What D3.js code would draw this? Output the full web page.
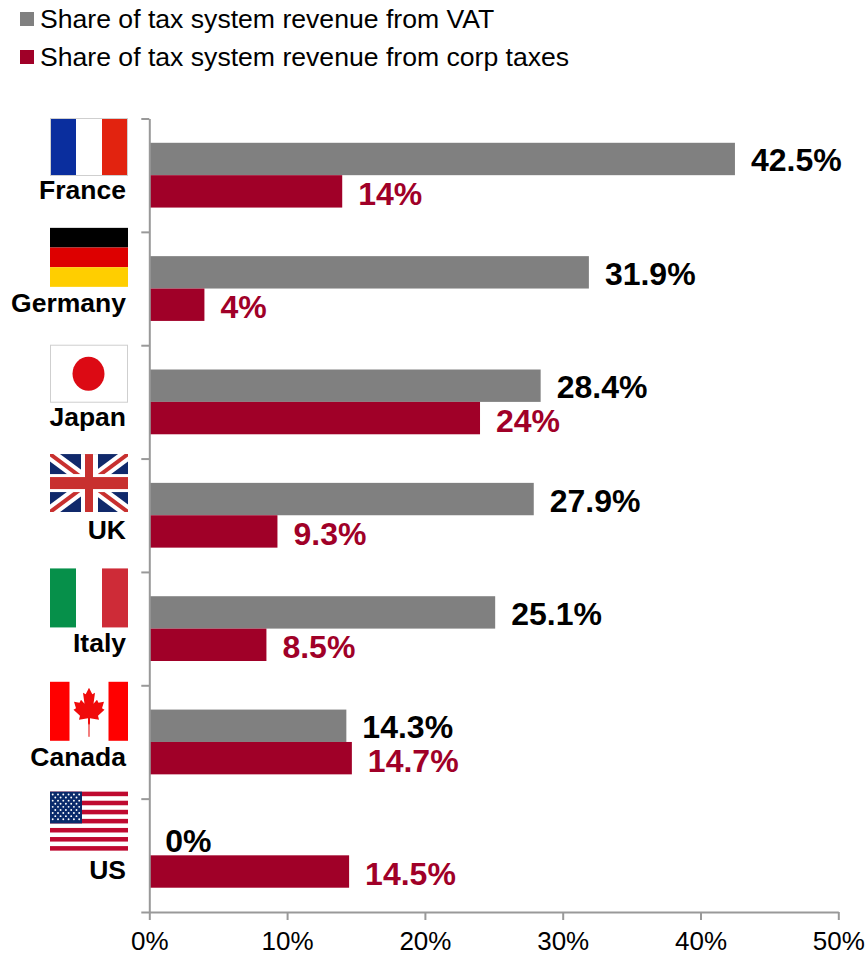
<!DOCTYPE html>
<html>
<head>
<meta charset="utf-8">
<script src="https://cdn.jsdelivr.net/npm/d3@7"></script>
<style>
  html, body { margin: 0; padding: 0; background: #fff; }
  svg { display: block; }
  text { font-family: "Liberation Sans", Arial, sans-serif; }
</style>
</head>
<body>
<svg id="chart" width="867" height="955"></svg>
<script>
// Tax revenue shares by country
const countries = ["France", "Germany", "Japan", "UK", "Italy", "Canada", "US"];
const vatShare = [42.5, 31.9, 28.4, 27.9, 25.1, 14.3, 0];
const corpShare = [14, 4, 24, 9.3, 8.5, 14.7, 14.5];
const seriesNames = ["Share of tax system revenue from VAT", "Share of tax system revenue from corp taxes"];
const xTicks = [0, 10, 20, 30, 40, 50];

const GREY = "#808080", CRIMSON = "#A00028", AXIS = "#999999";
const svg = d3.select("#chart");

const x = d3.scaleLinear().domain([0, 50]).range([149.3, 838.3]);
const yBand = d3.scaleBand().domain(countries).range([118.5, 912]);
const yBar = d3.scaleBand().domain(["vat", "corp"]).range([0, yBand.bandwidth()]).paddingOuter(0.75);
const yEdge = d3.scaleLinear().domain([0, countries.length]).range(yBand.range());

// Legend
const legendRow = d3.scalePoint().domain(seriesNames).range([19, 57]);
const legend = svg.append("g");
seriesNames.forEach((name, i) => {
  legend.append("rect").attr("x", 20).attr("y", legendRow(name) - 7).attr("width", 14).attr("height", 14)
    .attr("fill", i ? CRIMSON : GREY);
  legend.append("text").attr("x", 40).attr("y", legendRow(name) + 8.5)
    .attr("font-size", 26.6).attr("fill", "#000").text(name);
});

// Bars and value labels
const rows = countries.map((c, i) => ({ c, vat: vatShare[i], corp: corpShare[i] }));
[["vat", GREY, "#000"], ["corp", CRIMSON, CRIMSON]].forEach(([key, fill, ink]) => {
  svg.append("g").selectAll("rect").data(rows).join("rect")
    .attr("x", x(0))
    .attr("y", d => yBand(d.c) + yBar(key))
    .attr("width", d => x(d[key]) - x(0))
    .attr("height", yBar.bandwidth())
    .attr("fill", fill);
  svg.append("g").selectAll("text").data(rows).join("text")
    .attr("x", d => x(d[key]) + 16)
    .attr("y", d => yBand(d.c) + yBar(key) + yBar.bandwidth() / 2 + (key === "vat" ? 12.5 : 13.5))
    .attr("font-size", 32).attr("font-weight", "bold").attr("fill", ink)
    .text(d => d[key] + "%");
});

// Axes
const styleAxis = g => {
  g.selectAll("path, line").attr("stroke", AXIS).attr("stroke-width", 2);
};
svg.append("g").attr("transform", `translate(${x(0)},0)`)
  .call(d3.axisLeft(yEdge).tickValues(d3.range(countries.length + 1)).tickSize(8).tickSizeOuter(0).tickFormat(""))
  .call(styleAxis);
const xAxis = svg.append("g").attr("transform", `translate(0,${yEdge(countries.length)})`)
  .call(d3.axisBottom(x).tickValues(xTicks).tickSize(8).tickSizeOuter(0).tickPadding(11.5).tickFormat(d => d + "%"))
  .call(styleAxis);
xAxis.selectAll("text").attr("font-size", 26).attr("fill", "#000")
  .style("font-family", '"Liberation Sans", Arial, sans-serif');

// Category labels
svg.append("g").selectAll("text").data(countries).join("text")
  .attr("x", 126)
  .attr("y", c => yBand(c) + 80.5)
  .attr("text-anchor", "end")
  .attr("font-size", 26.5).attr("font-weight", "bold").attr("fill", "#000")
  .text(c => c);

// Flags, each drawn in a 78 x 59 box
const W = 78, H = 59;
const box = (g, x0, y0, w, h, fill) =>
  g.append("rect").attr("x", x0).attr("y", y0).attr("width", w).attr("height", h).attr("fill", fill);
const outline = g => g.append("rect").attr("x", 0.5).attr("y", 0.5).attr("width", W - 1).attr("height", H - 2)
  .attr("fill", "none").attr("stroke", "#cfcfcf").attr("stroke-width", 1);

const flags = {
  France: { shift: -0.5, draw: g => {
    box(g, 0, 0, W, H - 1, "#fff");
    box(g, 0, 0, W / 3, H - 1, "#0A2E9E");
    box(g, 2 * W / 3, 0, W / 3, H - 1, "#E2230F");
    outline(g);
  }},
  Germany: { shift: -4, draw: g => {
    box(g, 0, 0, W, H / 3, "#000");
    box(g, 0, H / 3, W, H / 3, "#DD0000");
    box(g, 0, 2 * H / 3, W, H / 3, "#FFCE00");
  }},
  Japan: { shift: -0.5, draw: g => {
    box(g, 0, 0, W, H - 1, "#fff");
    outline(g);
    g.append("ellipse").attr("cx", 38.5).attr("cy", 29).attr("rx", 16).attr("ry", 17).attr("fill", "#DC0A14");
  }},
  UK: { shift: -4.5, draw: g => {
    const id = "uk-clip";
    g.append("clipPath").attr("id", id).append("rect").attr("width", W).attr("height", H - 1);
    const c = g.append("g").attr("clip-path", `url(#${id})`);
    box(c, 0, 0, W, H, "#10296B");
    const diag = (stroke, w) => {
      c.append("line").attr("x1", 0).attr("y1", 0).attr("x2", W).attr("y2", H - 1).attr("stroke", stroke).attr("stroke-width", w);
      c.append("line").attr("x1", W).attr("y1", 0).attr("x2", 0).attr("y2", H - 1).attr("stroke", stroke).attr("stroke-width", w);
    };
    diag("#fff", 12);
    diag("#C8302F", 4);
    box(c, 0, 20, W, 18, "#fff");
    box(c, 31, 0, 17, H, "#fff");
    box(c, 0, 23, W, 12, "#C8302F");
    box(c, 35, 0, 8, H, "#C8302F");
  }},
  Italy: { shift: -3.5, draw: g => {
    box(g, 0, 0, W / 3, H, "#06904A");
    box(g, 2 * W / 3, 0, W / 3, H, "#CE2B37");
  }},
  Canada: { shift: -3.5, draw: g => {
    box(g, 0, 0, 19.5, H, "#FF0000");
    box(g, W - 19.5, 0, 19.5, H, "#FF0000");
    const half = [[0, 6], [3.3, 12.5], [6, 11], [4.5, 22], [8, 18], [9.5, 21], [15, 20], [13, 26.5], [15.5, 28], [9, 34], [10, 38], [1, 36.5], [1, 43]];
    const pts = half.concat(half.slice().reverse().map(([a, b]) => [-a, b])).map(([a, b]) => [39 + a, b]);
    g.append("path").attr("d", d3.line()(pts) + "Z").attr("fill", "#F00A0A");
    box(g, 38.2, 42, 1.6, 13, "#F06060");
  }},
  US: { shift: -7, draw: g => {
    const stripe = H / 13;
    d3.range(0, 13, 2).forEach(i => box(g, 0, i * stripe, W, stripe, "#BF0A30"));
    box(g, 0, 0, 32, 7 * stripe, "#0A2A6B");
    const stars = d3.range(9).flatMap(r => d3.range(r % 2 ? 5 : 6).map(k => [(r % 2 ? 5.3 : 2.7) + k * 5.3, 2.8 + r * 3.1]));
    g.append("g").selectAll("circle").data(stars).join("circle")
      .attr("cx", d => d[0]).attr("cy", d => d[1]).attr("r", 0.95).attr("fill", "#fff");
  }}
};

countries.forEach(c => {
  const g = svg.append("g").attr("transform", `translate(50,${yBand(c) + flags[c].shift})`);
  flags[c].draw(g);
});
</script>
</body>
</html>
